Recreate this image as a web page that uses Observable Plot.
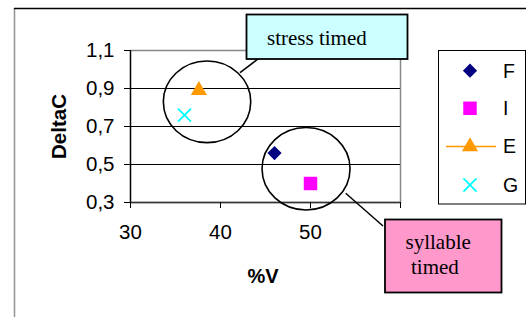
<!DOCTYPE html>
<html><head><meta charset="utf-8">
<script src="https://cdn.jsdelivr.net/npm/d3@7"></script>
<script src="https://cdn.jsdelivr.net/npm/@observablehq/plot@0.6"></script>
<style>html,body{margin:0;padding:0;background:#fff;} svg{display:block;}</style>
</head><body><div id="chart"></div>
<script>
// ---- data ----
const series = ["F", "I", "E", "G"];
const pctV   = [46, 50, 37.6, 36];
const deltaC = [0.56, 0.40, 0.89, 0.76];
const xTicks = [30, 40, 50, 60];
const xTickLabels = ["30", "40", "50", ""];
const yTicks = [0.3, 0.5, 0.7, 0.9, 1.1];
const gridY  = [0.5, 0.7, 0.9];
const xLabel = "%V";
const yLabel = "DeltaC";
const groupLabels = [["stress timed"], ["syllable", "timed"]];
const groupCentersX = [38.56, 49.56];
const groupCentersY = [0.827, 0.475];

// ---- styles ----
const styleOf = {
  F: {symbol: "diamond2", d3sym: d3.symbolDiamond2, color: "#000080", r: 6.4, filled: true},
  I: {symbol: "square",   d3sym: d3.symbolSquare,   color: "#ff00ff", r: 7.6, filled: true},
  E: {symbol: "triangle", d3sym: d3.symbolTriangle, color: "#ff9900", r: 6.0, filled: true},
  G: {symbol: "times",    d3sym: d3.symbolTimes,    color: "#00ffff", r: 6.0, filled: false}
};

const rows = series.map((s, i) => ({series: s, x: pctV[i], y: deltaC[i]}));
const fmt = d => d3.format(".1f")(d).replace(".", ",");

const dotMarks = series.map(s => {
  const st = styleOf[s];
  const data = rows.filter(d => d.series === s);
  return st.filled
    ? Plot.dot(data, {x: "x", y: "y", symbol: () => st.symbol, r: st.r, fill: st.color, stroke: "none"})
    : Plot.dot(data, {x: "x", y: "y", symbol: () => st.symbol, r: st.r, fill: "none", stroke: st.color, strokeWidth: 1.8});
});

const plot = Plot.plot({
  width: 526, height: 317,
  marginLeft: 130, marginTop: 50, marginRight: 126, marginBottom: 115,
  style: {fontFamily: "'Liberation Sans', Arial, sans-serif", background: "#fff", color: "#000"},
  x: {domain: [30, 60]},
  y: {domain: [0.3, 1.1]},
  marks: [
    Plot.frame({stroke: "#888", strokeWidth: 1.5}),
    Plot.ruleY(gridY, {stroke: "#000", strokeWidth: 1}),
    Plot.ruleX([30], {stroke: "#000", strokeWidth: 1.3}),
    Plot.ruleY([0.3], {stroke: "#333", strokeWidth: 1.3}),
    Plot.axisX({ticks: xTicks, tickSize: 6, tickPadding: 16, fontSize: 20.5, label: null,
      tickFormat: d => xTickLabels[xTicks.indexOf(d)]}),
    Plot.axisY({ticks: yTicks, tickSize: 6, tickPadding: 10, fontSize: 20.5, label: null, tickFormat: fmt}),
    ...dotMarks
  ]
});

const svg = d3.select(plot);
const sx = plot.scale("x"), sy = plot.scale("y");
const sans = "'Liberation Sans', Arial, sans-serif";
const serif = "'Liberation Serif', 'Times New Roman', serif";

// outer chart frame
svg.append("line").attr("x1", 14.5).attr("x2", 14.5).attr("y1", 8).attr("y2", 317).attr("stroke", "#999").attr("stroke-width", 1.6);
svg.append("line").attr("x1", 14).attr("x2", 526).attr("y1", 8.5).attr("y2", 8.5).attr("stroke", "#000").attr("stroke-width", 1.3);

// axis titles
svg.append("text").attr("x", 263).attr("y", 282.5).attr("text-anchor", "middle")
  .attr("font-family", sans).attr("font-weight", "bold").attr("font-size", 20).text(xLabel);
svg.append("text").attr("transform", "translate(65.5,126.5) rotate(-90)").attr("text-anchor", "middle")
  .attr("font-family", sans).attr("font-weight", "bold").attr("font-size", 20.5).text(yLabel);

// group ellipses
const radii = [[43.7, 40.8], [44, 41.2]];
groupCentersX.forEach((gx, i) => {
  svg.append("ellipse").attr("cx", sx.apply(gx)).attr("cy", sy.apply(groupCentersY[i]))
    .attr("rx", radii[i][0]).attr("ry", radii[i][1]).attr("fill", "none").attr("stroke", "#000").attr("stroke-width", 1.6);
});

// callouts
svg.append("line").attr("x1", 240).attr("y1", 72.7).attr("x2", 258).attr("y2", 59).attr("stroke", "#000").attr("stroke-width", 1.5);
svg.append("rect").attr("x", 246.5).attr("y", 14.5).attr("width", 161).attr("height", 44.5)
  .attr("fill", "#ccffff").attr("stroke", "#000").attr("stroke-width", 1.8);
svg.append("text").attr("x", 267).attr("y", 45).attr("text-anchor", "start")
  .attr("font-family", serif).attr("font-size", 21).text(groupLabels[0][0]);

svg.append("line").attr("x1", 345.7).attr("y1", 193.3).attr("x2", 383).attr("y2", 226).attr("stroke", "#000").attr("stroke-width", 1.5);
svg.append("rect").attr("x", 385).attr("y", 219.5).attr("width", 116.5).attr("height", 73)
  .attr("fill", "#ff99cc").attr("stroke", "#000").attr("stroke-width", 1.8);
svg.append("text").attr("x", 405.5).attr("y", 248.5).attr("text-anchor", "start")
  .attr("font-family", serif).attr("font-size", 21).text(groupLabels[1][0]);
svg.append("text").attr("x", 411).attr("y", 273.5).attr("text-anchor", "start")
  .attr("font-family", serif).attr("font-size", 21).text(groupLabels[1][1]);

// legend
svg.append("rect").attr("x", 438.5).attr("y", 50.5).attr("width", 87).attr("height", 153.5)
  .attr("fill", "#fff").attr("stroke", "#000").attr("stroke-width", 1);
const legY = [70.7, 108.3, 146.5, 185];
series.forEach((s, i) => {
  const st = styleOf[s];
  if (s === "E") {
    svg.append("line").attr("x1", 446).attr("x2", 496).attr("y1", legY[i]).attr("y2", legY[i]).attr("stroke", st.color).attr("stroke-width", 1.5);
  }
  const p = d3.symbol(st.d3sym, st.r * st.r * Math.PI)();
  const g = svg.append("path").attr("d", p).attr("transform", `translate(470,${legY[i]})`);
  if (st.filled) g.attr("fill", st.color); else g.attr("fill", "none").attr("stroke", st.color).attr("stroke-width", 1.8);
  svg.append("text").attr("x", 503).attr("y", legY[i] + 6.8).attr("text-anchor", "start")
    .attr("font-family", sans).attr("font-size", 19.5).text(s);
});

document.getElementById("chart").appendChild(plot);
</script>
</body></html>
